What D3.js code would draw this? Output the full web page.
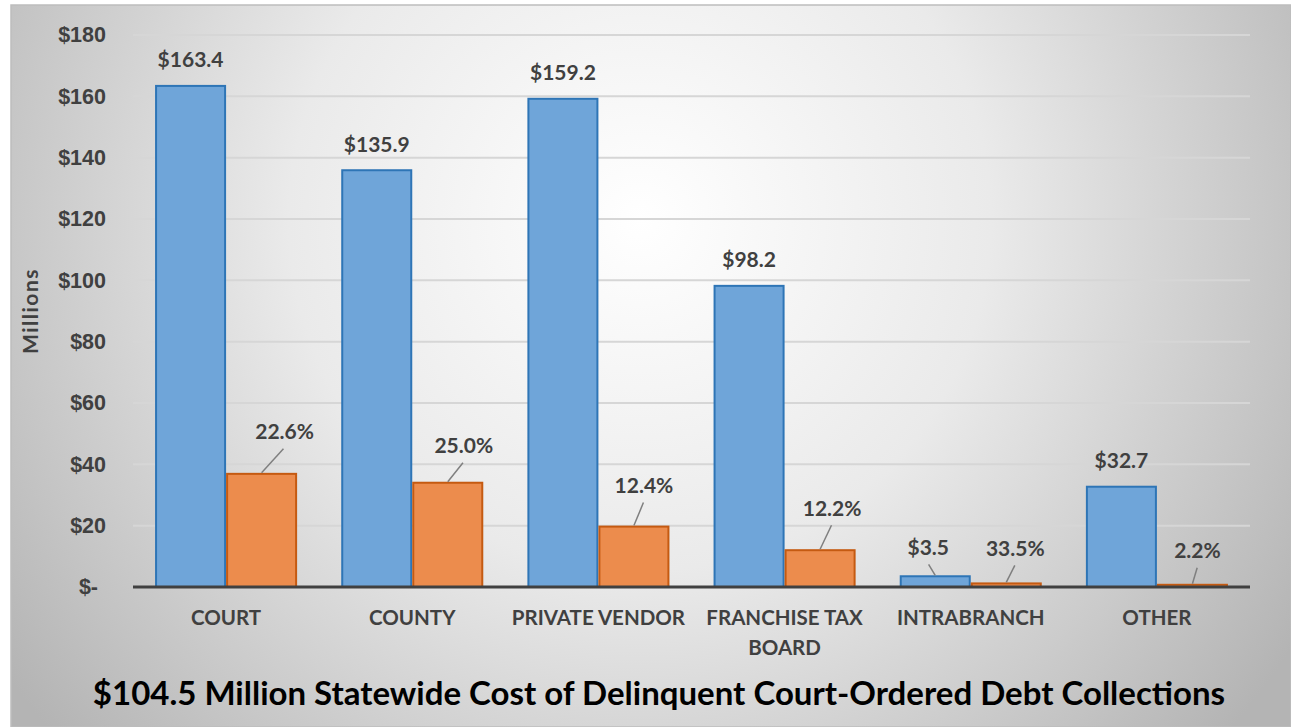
<!DOCTYPE html>
<html>
<head>
<meta charset="utf-8">
<script src="https://cdn.jsdelivr.net/npm/d3@7"></script>
<style>
  body { margin: 0; background: #fff; }
  svg { display: block; font-family: Lato, "Open Sans", sans-serif; }
</style>
</head>
<body>
<div id="chart"></div>
<script>
var categories = ["COURT", "COUNTY", "PRIVATE VENDOR", "FRANCHISE TAX BOARD", "INTRABRANCH", "OTHER"];
var collections = [163.4, 135.9, 159.2, 98.2, 3.5, 32.7];
var costs = [36.9, 34.0, 19.7, 12.0, 1.17, 0.72];
var costPct = ["22.6%", "25.0%", "12.4%", "12.2%", "33.5%", "2.2%"];
var yTicks = [0, 20, 40, 60, 80, 100, 120, 140, 160, 180];
var title = "$104.5 Million Statewide Cost of Delinquent Court-Ordered Debt Collections";

// label nudges (px) the way they sit in the original, [dx, dy] from bar top centre
var blueNudge = [[0, -26], [0, -26], [0, -26], [0, -26], [-7, -29], [0, -26]];
var orangeNudge = [[23, -42], [16, -37], [10, -41], [12, -42], [9, -35], [5, -34]];
var blueLeader = [false, false, false, false, true, false];

var svgWidth = 1291, svgHeight = 727;
var margin = { top: 35, bottom: 140, left: 133, right: 41 };
var width = svgWidth - margin.left - margin.right;
var height = svgHeight - margin.top - margin.bottom;

var svg = d3.select("#chart").append("svg")
  .attr("width", svgWidth)
  .attr("height", svgHeight);

var defs = svg.append("defs");
var grad = defs.append("radialGradient")
  .attr("id", "bg")
  .attr("gradientUnits", "userSpaceOnUse")
  .attr("cx", 640).attr("cy", 220).attr("r", 780);
grad.append("stop").attr("offset", "0%").attr("stop-color", "#ffffff");
grad.append("stop").attr("offset", "45%").attr("stop-color", "#eaeaea");
grad.append("stop").attr("offset", "100%").attr("stop-color", "#b4b4b4");

svg.append("rect")
  .attr("x", 11).attr("y", 5)
  .attr("width", svgWidth - 11).attr("height", svgHeight - 5)
  .attr("fill", "url(#bg)")
  .attr("stroke", "#bdbdbd")
  .attr("stroke-width", 1.5);

var g = svg.append("g")
  .attr("transform", "translate(" + margin.left + "," + margin.top + ")");

var x0 = d3.scaleBand()
  .domain(categories)
  .range([0, width])
  .paddingInner(0.237)
  .paddingOuter(0.1185);

var x1 = d3.scaleBand()
  .domain(["collections", "cost"])
  .range([0, x0.bandwidth()]);

var y = d3.scaleLinear()
  .domain([0, 180])
  .range([height, 0]);

// gridlines
g.append("g")
  .selectAll("line")
  .data(yTicks.filter(function (d) { return d > 0; }))
  .enter()
  .append("line")
  .attr("x1", 0).attr("x2", width)
  .attr("y1", function (d) { return y(d); })
  .attr("y2", function (d) { return y(d); })
  .attr("stroke", "#d6d6d6")
  .attr("stroke-width", 2);

// y axis
var yAxis = g.append("g")
  .call(d3.axisLeft(y).tickValues(yTicks).tickSize(0).tickPadding(27)
    .tickFormat(function (d) { return d === 0 ? "$-" : "$" + d; }));
yAxis.select(".domain").remove();
yAxis.selectAll("text")
  .attr("fill", "#404040")
  .style("font-size", "21.5px")
  .style("font-weight", "bold")
  .attr("dx", function (d) { return d === 0 ? -8 : 0; });

g.append("text")
  .attr("transform", "rotate(-90)")
  .attr("x", -(y(90)))
  .attr("y", -95)
  .attr("text-anchor", "middle")
  .attr("fill", "#404040")
  .style("font-size", "21px")
  .style("font-weight", "bold")
  .style("letter-spacing", "1.5px")
  .text("Millions");

var groups = g.append("g")
  .selectAll("g")
  .data(categories)
  .enter()
  .append("g")
  .attr("transform", function (d) { return "translate(" + x0(d) + ",0)"; });

groups.append("rect")
  .attr("x", x1("collections") + 1)
  .attr("y", function (d, i) { return y(collections[i]); })
  .attr("width", x1.bandwidth() - 2)
  .attr("height", function (d, i) { return height - y(collections[i]); })
  .attr("fill", "#6fa5d9")
  .attr("stroke", "#2e75b6")
  .attr("stroke-width", 2);

groups.append("rect")
  .attr("x", x1("cost") + 1)
  .attr("y", function (d, i) { return y(costs[i]); })
  .attr("width", x1.bandwidth() - 2)
  .attr("height", function (d, i) { return height - y(costs[i]); })
  .attr("fill", "#ec8c4d")
  .attr("stroke", "#c55a11")
  .attr("stroke-width", 2);

// x axis line
g.append("line")
  .attr("x1", 0).attr("x2", width)
  .attr("y1", height).attr("y2", height)
  .attr("stroke", "#404040")
  .attr("stroke-width", 3);

// leader lines
function leader(sel, cx, topY, nudge) {
  sel.append("line")
    .attr("x1", cx + nudge[0] * 0.95)
    .attr("y1", topY + nudge[1] + 17)
    .attr("x2", cx)
    .attr("y2", topY - 1)
    .attr("stroke", "#7f7f7f")
    .attr("stroke-width", 1.5);
}

groups.each(function (d, i) {
  var sel = d3.select(this);
  var bx = x1("collections") + x1.bandwidth() / 2;
  var ox = x1("cost") + x1.bandwidth() / 2;
  var by = y(collections[i]);
  var oy = y(costs[i]);
  if (blueLeader[i]) leader(sel, bx, by, blueNudge[i]);
  leader(sel, ox, oy, orangeNudge[i]);

  sel.append("text")
    .attr("x", bx + blueNudge[i][0])
    .attr("y", by + blueNudge[i][1])
    .attr("dy", "0.35em")
    .attr("text-anchor", "middle")
    .attr("fill", "#404040")
    .style("font-size", "21px")
    .style("font-weight", "bold")
    .text("$" + collections[i]);

  sel.append("text")
    .attr("x", ox + orangeNudge[i][0])
    .attr("y", oy + orangeNudge[i][1])
    .attr("dy", "0.35em")
    .attr("text-anchor", "middle")
    .attr("fill", "#404040")
    .style("font-size", "21px")
    .style("font-weight", "bold")
    .text(costPct[i]);
});

// category labels, wrapping FRANCHISE TAX BOARD
var catLines = { "FRANCHISE TAX BOARD": ["FRANCHISE TAX", "BOARD"] };
groups.each(function (d) {
  var lines = catLines[d] || [d];
  var t = d3.select(this).append("text")
    .attr("x", x0.bandwidth() / 2)
    .attr("y", height + 38)
    .attr("text-anchor", "middle")
    .attr("fill", "#404040")
    .style("font-size", "20.5px")
    .style("font-weight", "bold");
  lines.forEach(function (l, k) {
    t.append("tspan")
      .attr("x", x0.bandwidth() / 2)
      .attr("dy", k === 0 ? 0 : 30)
      .text(l);
  });
});

svg.append("text")
  .attr("x", 659)
  .attr("y", 705)
  .attr("text-anchor", "middle")
  .attr("fill", "#000")
  .style("font-size", "33px")
  .style("font-weight", "bold")
  .text(title);
</script>
</body>
</html>
